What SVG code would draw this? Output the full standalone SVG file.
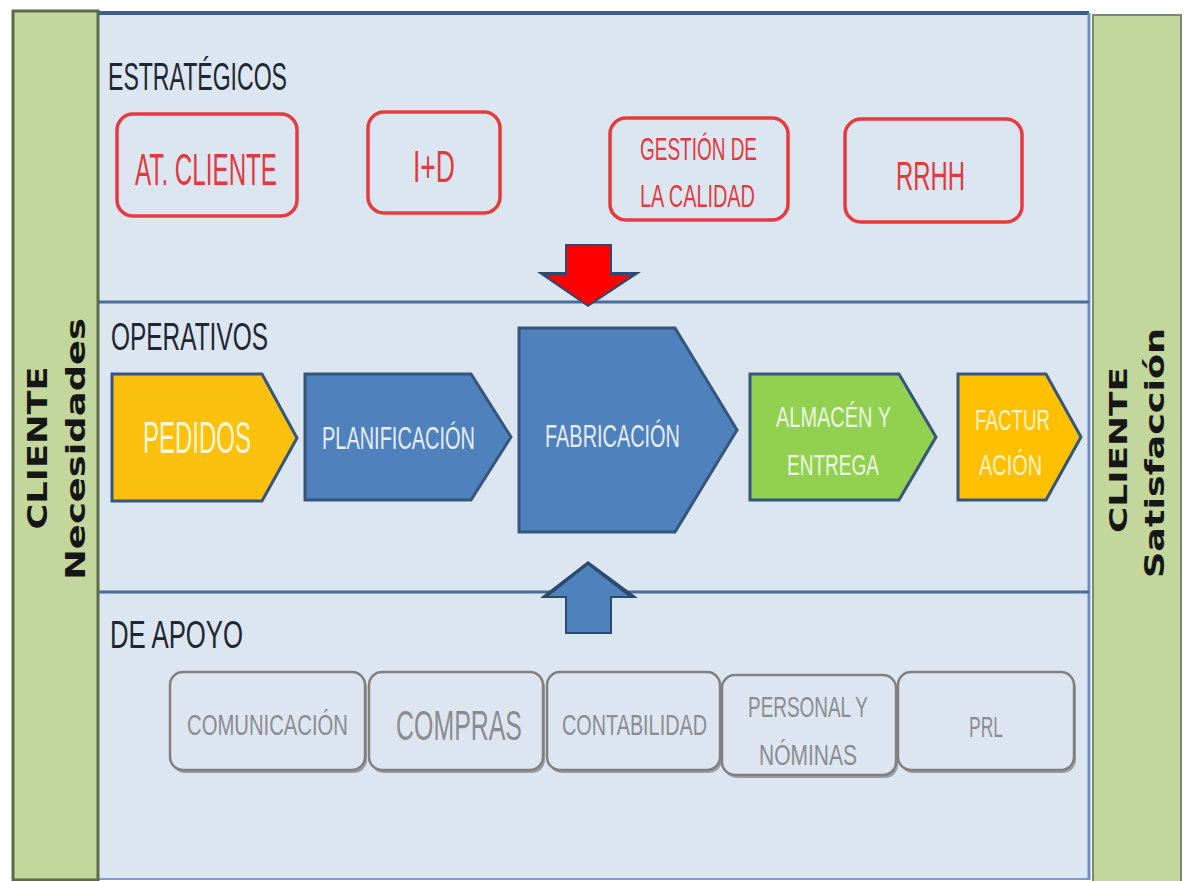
<svg xmlns="http://www.w3.org/2000/svg" width="1186" height="881" viewBox="0 0 1186 881">
  <defs>
    <style>
      .hdr{font-family:"Liberation Sans Narrow","Liberation Sans",Arial,sans-serif;font-size:39px;fill:#1e2732;}
      .red{fill:none;stroke:#e63a3f;stroke-width:3.5;}
      .redt{font-family:"Liberation Sans Narrow","Liberation Sans",Arial,sans-serif;fill:#e03a3e;}
      .pent{stroke:#35557c;stroke-width:3;stroke-linejoin:miter;}
      .pt{font-family:"Liberation Sans Narrow","Liberation Sans",Arial,sans-serif;}
      .gray{fill:#dde6f0;stroke:#808080;stroke-width:2.5;}
      .gshadow{fill:#9a9fa6;}
      .gt{font-family:"Liberation Sans Narrow","Liberation Sans",Arial,sans-serif;fill:#8a8c90;text-anchor:middle;}
      .vt{font-family:"DejaVu Sans",Verdana,sans-serif;font-weight:bold;fill:#161616;}
      .band{fill:#c3d69b;}
    </style>
  </defs>

  <rect x="0" y="0" width="1186" height="881" fill="#ffffff"/>

  <!-- main area -->
  <g id="main-area">
    <rect x="98" y="13" width="991" height="867" fill="#dce6f1"/>
    <line x1="98" y1="13" x2="1089" y2="13" stroke="#3e5f89" stroke-width="4"/>
    <line x1="1089" y1="13" x2="1089" y2="880" stroke="#6d8fc0" stroke-width="3"/>
    <line x1="98" y1="879" x2="1089" y2="879" stroke="#7a9ccc" stroke-width="2"/>
    <line x1="98" y1="302" x2="1089" y2="302" stroke="#4a6d98" stroke-width="3"/>
    <line x1="98" y1="592" x2="1089" y2="592" stroke="#4a6d98" stroke-width="3"/>
  </g>

  <!-- left band -->
  <g id="cliente-necesidades">
    <rect class="band" x="13" y="11" width="85" height="869" stroke="#5b6b4a" stroke-width="3"/>
    <text class="vt" font-size="27" text-anchor="middle" textLength="163" lengthAdjust="spacingAndGlyphs" transform="translate(47,448) rotate(-90)">CLIENTE</text>
    <text class="vt" font-size="27" text-anchor="middle" textLength="262" lengthAdjust="spacingAndGlyphs" transform="translate(85,449) rotate(-90)">Necesidades</text>
  </g>

  <!-- right band -->
  <g id="cliente-satisfaccion">
    <rect class="band" x="1093" y="15" width="88" height="867" stroke="#7d8870" stroke-width="2"/>
    <text class="vt" font-size="24" text-anchor="middle" textLength="166" lengthAdjust="spacingAndGlyphs" transform="translate(1127,450) rotate(-90)">CLIENTE</text>
    <text class="vt" font-size="26" text-anchor="middle" textLength="250" lengthAdjust="spacingAndGlyphs" transform="translate(1164,453) rotate(-90)">Satisfacción</text>
  </g>

  <!-- section headers -->
  <g id="estrategicos">
    <text class="hdr" x="108" y="90" textLength="179" lengthAdjust="spacingAndGlyphs">ESTRATÉGICOS</text>
  </g>
  <g id="operativos">
    <text class="hdr" x="111" y="350" textLength="157" lengthAdjust="spacingAndGlyphs">OPERATIVOS</text>
  </g>
  <g id="de-apoyo">
    <text class="hdr" x="110" y="648" textLength="133" lengthAdjust="spacingAndGlyphs">DE APOYO</text>
  </g>

  <!-- strategic boxes -->
  <g id="at-cliente">
    <rect class="red" x="117" y="114" width="180" height="102" rx="16"/>
    <text class="redt" x="135" y="185" font-size="44" textLength="142" lengthAdjust="spacingAndGlyphs">AT. CLIENTE</text>
  </g>
  <g id="i-d">
    <rect class="red" x="368" y="112" width="132" height="101" rx="16"/>
    <text class="redt" x="413" y="182" font-size="44" textLength="42" lengthAdjust="spacingAndGlyphs">I+D</text>
  </g>
  <g id="gestion-calidad">
    <rect class="red" x="610" y="118" width="178" height="102" rx="16"/>
    <text class="redt" x="640" y="160" font-size="31" textLength="117" lengthAdjust="spacingAndGlyphs">GESTIÓN DE</text>
    <text class="redt" x="640" y="207" font-size="31" textLength="115" lengthAdjust="spacingAndGlyphs">LA CALIDAD</text>
  </g>
  <g id="rrhh">
    <rect class="red" x="845" y="119" width="177" height="103" rx="16"/>
    <text class="redt" x="896" y="190" font-size="41" textLength="69" lengthAdjust="spacingAndGlyphs">RRHH</text>
  </g>

  <!-- operative chevrons -->
  <g id="pedidos">
    <polygon class="pent" fill="#fcc00f" points="112,374 262,374 297,438 262,501 112,501"/>
    <text class="pt" x="143" y="453" font-size="45" fill="#fff6d6" textLength="108" lengthAdjust="spacingAndGlyphs">PEDIDOS</text>
  </g>
  <g id="planificacion">
    <polygon class="pent" fill="#4f81bd" points="305,374 471,374 511,437 471,500 305,500"/>
    <text class="pt" x="322" y="449" font-size="31" fill="#e6edf7" textLength="153" lengthAdjust="spacingAndGlyphs">PLANIFICACIÓN</text>
  </g>
  <g id="fabricacion">
    <polygon class="pent" fill="#4f81bd" points="519,328 675,328 737,430 675,532 519,532"/>
    <text class="pt" x="545" y="447" font-size="31" fill="#e6edf7" textLength="135" lengthAdjust="spacingAndGlyphs">FABRICACIÓN</text>
  </g>
  <g id="almacen-entrega">
    <polygon class="pent" fill="#92d050" points="750,374 899,374 936,437 899,500 750,500"/>
    <text class="pt" x="776" y="427" font-size="30" fill="#eef8e2" textLength="115" lengthAdjust="spacingAndGlyphs">ALMACÉN Y</text>
    <text class="pt" x="787" y="475" font-size="30" fill="#eef8e2" textLength="92" lengthAdjust="spacingAndGlyphs">ENTREGA</text>
  </g>
  <g id="facturacion">
    <polygon class="pent" fill="#ffc000" points="958,374 1046,374 1081,437 1046,500 958,500"/>
    <text class="pt" x="975" y="430" font-size="30" fill="#fff3cf" textLength="75" lengthAdjust="spacingAndGlyphs">FACTUR</text>
    <text class="pt" x="979" y="475" font-size="30" fill="#fff3cf" textLength="63" lengthAdjust="spacingAndGlyphs">ACIÓN</text>
  </g>

  <!-- support boxes -->
  <g id="comunicacion">
    <rect class="gshadow" x="172" y="675" width="195" height="98" rx="13"/>
    <rect class="gray" x="170" y="672" width="195" height="98" rx="13"/>
    <text class="gt" x="267.5" y="735" font-size="29" textLength="161" lengthAdjust="spacingAndGlyphs">COMUNICACIÓN</text>
  </g>
  <g id="compras">
    <rect class="gshadow" x="371" y="675" width="174" height="98" rx="13"/>
    <rect class="gray" x="369" y="672" width="174" height="98" rx="13"/>
    <text class="gt" x="0" y="0" font-size="30" transform="translate(459,740) scale(1,1.4)" textLength="126" lengthAdjust="spacingAndGlyphs">COMPRAS</text>
  </g>
  <g id="contabilidad">
    <rect class="gshadow" x="549" y="675" width="173" height="98" rx="13"/>
    <rect class="gray" x="547" y="672" width="173" height="98" rx="13"/>
    <text class="gt" x="634.5" y="735" font-size="29" textLength="145" lengthAdjust="spacingAndGlyphs">CONTABILIDAD</text>
  </g>
  <g id="personal-nominas">
    <rect class="gshadow" x="724" y="678" width="174" height="100" rx="13"/>
    <rect class="gray" x="722" y="675" width="174" height="100" rx="13"/>
    <text class="gt" x="808" y="717" font-size="29" textLength="120" lengthAdjust="spacingAndGlyphs">PERSONAL Y</text>
    <text class="gt" x="808" y="765" font-size="29" textLength="98" lengthAdjust="spacingAndGlyphs">NÓMINAS</text>
  </g>
  <g id="prl">
    <rect class="gshadow" x="900" y="675" width="176" height="98" rx="13"/>
    <rect class="gray" x="898" y="672" width="176" height="98" rx="13"/>
    <text class="gt" x="986" y="737" font-size="29" textLength="34" lengthAdjust="spacingAndGlyphs">PRL</text>
  </g>

  <!-- connectors (block arrows) -->
  <g id="connectors">
    <polygon fill="#2e4a72" points="565,244 612,244 612,272 641,272 588,307 537,272 565,272"/>
    <polygon fill="#ff0000" points="567,246 610,246 610,275 632,275 588,305 546,275 567,275"/>
    <polygon fill="#2c4a70" points="588,561 638,598 612,598 612,634 565,634 565,598 540,598"/>
    <polygon fill="#4f81bd" points="588,565 628,596 610,596 610,632 567,632 567,596 549,596"/>
  </g>
</svg>
